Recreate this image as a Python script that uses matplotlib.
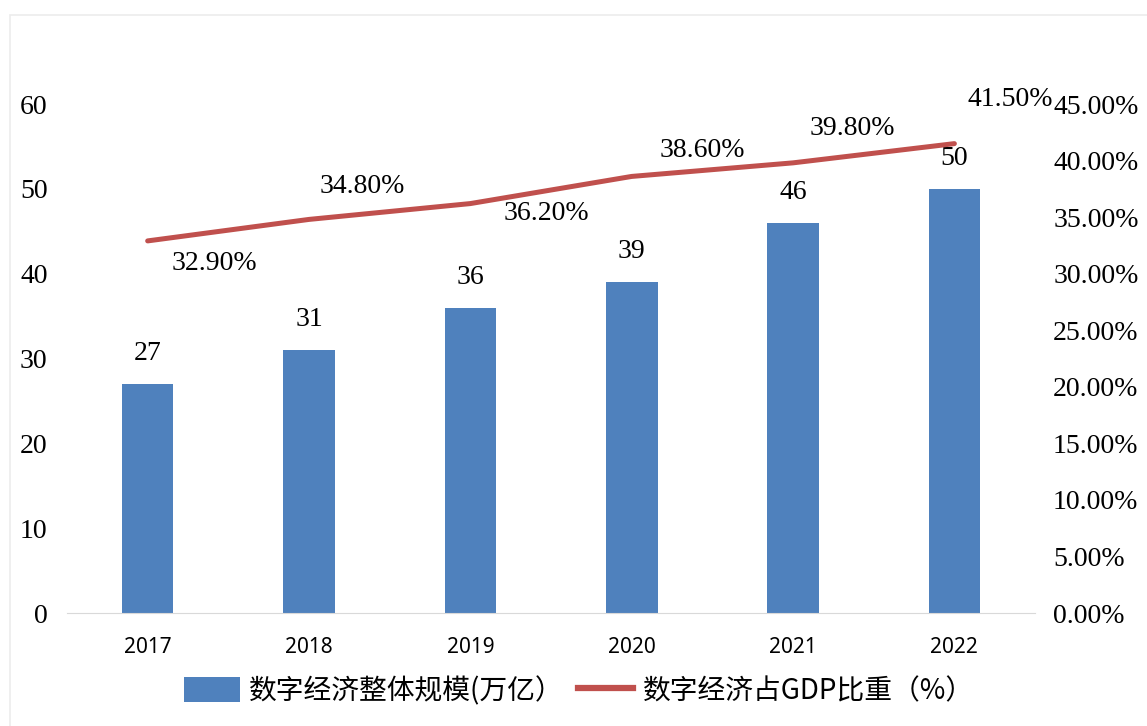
import matplotlib.pyplot as plt
from matplotlib.patches import Rectangle, Patch
from matplotlib.lines import Line2D
import numpy as np

# data
years = ['2017', '2018', '2019', '2020', '2021', '2022']
scale = [27, 31, 36, 39, 46, 50]                 # 数字经济整体规模 (万亿)
share = [32.9, 34.8, 36.2, 38.6, 39.8, 41.5]     # 数字经济占GDP比重 (%)
left_ticks = [0, 10, 20, 30, 40, 50, 60]
right_ticks = [0, 5, 10, 15, 20, 25, 30, 35, 40, 45]

bar_color = '#4F81BD'
line_color = '#C0504D'
serif = ['Liberation Serif', 'DejaVu Serif']
cjk = ['Noto Sans CJK SC', 'DejaVu Sans']
fs = 20

fig = plt.figure(figsize=(11.47, 7.26), dpi=100, facecolor='white')
ax = fig.add_axes([0.0584, 0.1556, 0.844, 0.7011])
ax2 = ax.twinx()

x = np.arange(len(years))
ax.bar(x, scale, width=0.32, color=bar_color, zorder=2)
ax.set_xlim(-0.5, len(years) - 0.5)
ax.set_ylim(0, 60)
ax.set_yticks(left_ticks)
ax.set_yticklabels([str(t) for t in left_ticks], fontfamily=serif, fontsize=fs)
ax.set_xticks(x)
ax.set_xticklabels(years, fontfamily='Noto Sans', fontsize=15)
ax.tick_params(axis='both', length=0)
ax.tick_params(axis='y', pad=14)
ax.tick_params(axis='x', pad=17)
for s in ['top', 'left', 'right']:
    ax.spines[s].set_visible(False)
ax.spines['bottom'].set_color('#d9d9d9')

# bar value labels
for xi, v in zip(x, scale):
    ax.annotate(str(v), xy=(xi, v), xytext=(0, 22), textcoords='offset points',
                ha='center', va='center', fontfamily=serif, fontsize=fs)

# line on secondary axis
ax2.plot(x, share, color=line_color, linewidth=3.6, solid_capstyle='round', zorder=3)
ax2.set_ylim(0, 45)
ax2.set_yticks(right_ticks)
ax2.set_yticklabels(['%.2f%%' % t for t in right_ticks], fontfamily=serif, fontsize=fs)
ax2.tick_params(axis='y', length=0, pad=13)
for s in ['top', 'left', 'right', 'bottom']:
    ax2.spines[s].set_visible(False)

# line value labels, offsets in points
offsets = [(48, -16), (38, 24), (55, -7), (51, 19), (43, 25), (40, 32)]
for xi, v, (dx, dy) in zip(x, share, offsets):
    ax2.annotate('%.2f%%' % v, xy=(xi, v), xytext=(dx, dy), textcoords='offset points',
                 ha='center', va='center', fontfamily=serif, fontsize=fs)

# legend
handles = [Patch(facecolor=bar_color, edgecolor='none'),
           Line2D([0], [0], color=line_color, linewidth=4.5)]
labels = ['数字经济整体规模(万亿）', '数字经济占GDP比重（%）']
fig.legend(handles, labels, loc='center', bbox_to_anchor=(0.505, 0.048), ncol=2,
           frameon=False, prop={'family': cjk, 'size': fs},
           handlelength=2.0, handleheight=1.0, handletextpad=0.35, columnspacing=0.5)

# faint outer frame
fig.patches.append(Rectangle((10 / 1147, -0.01), 1.05, 1 - 15 / 726 + 0.01,
                             transform=fig.transFigure, fill=False,
                             edgecolor='#ececec', linewidth=1.2))

fig.savefig('out.png', dpi=100, facecolor='white')
